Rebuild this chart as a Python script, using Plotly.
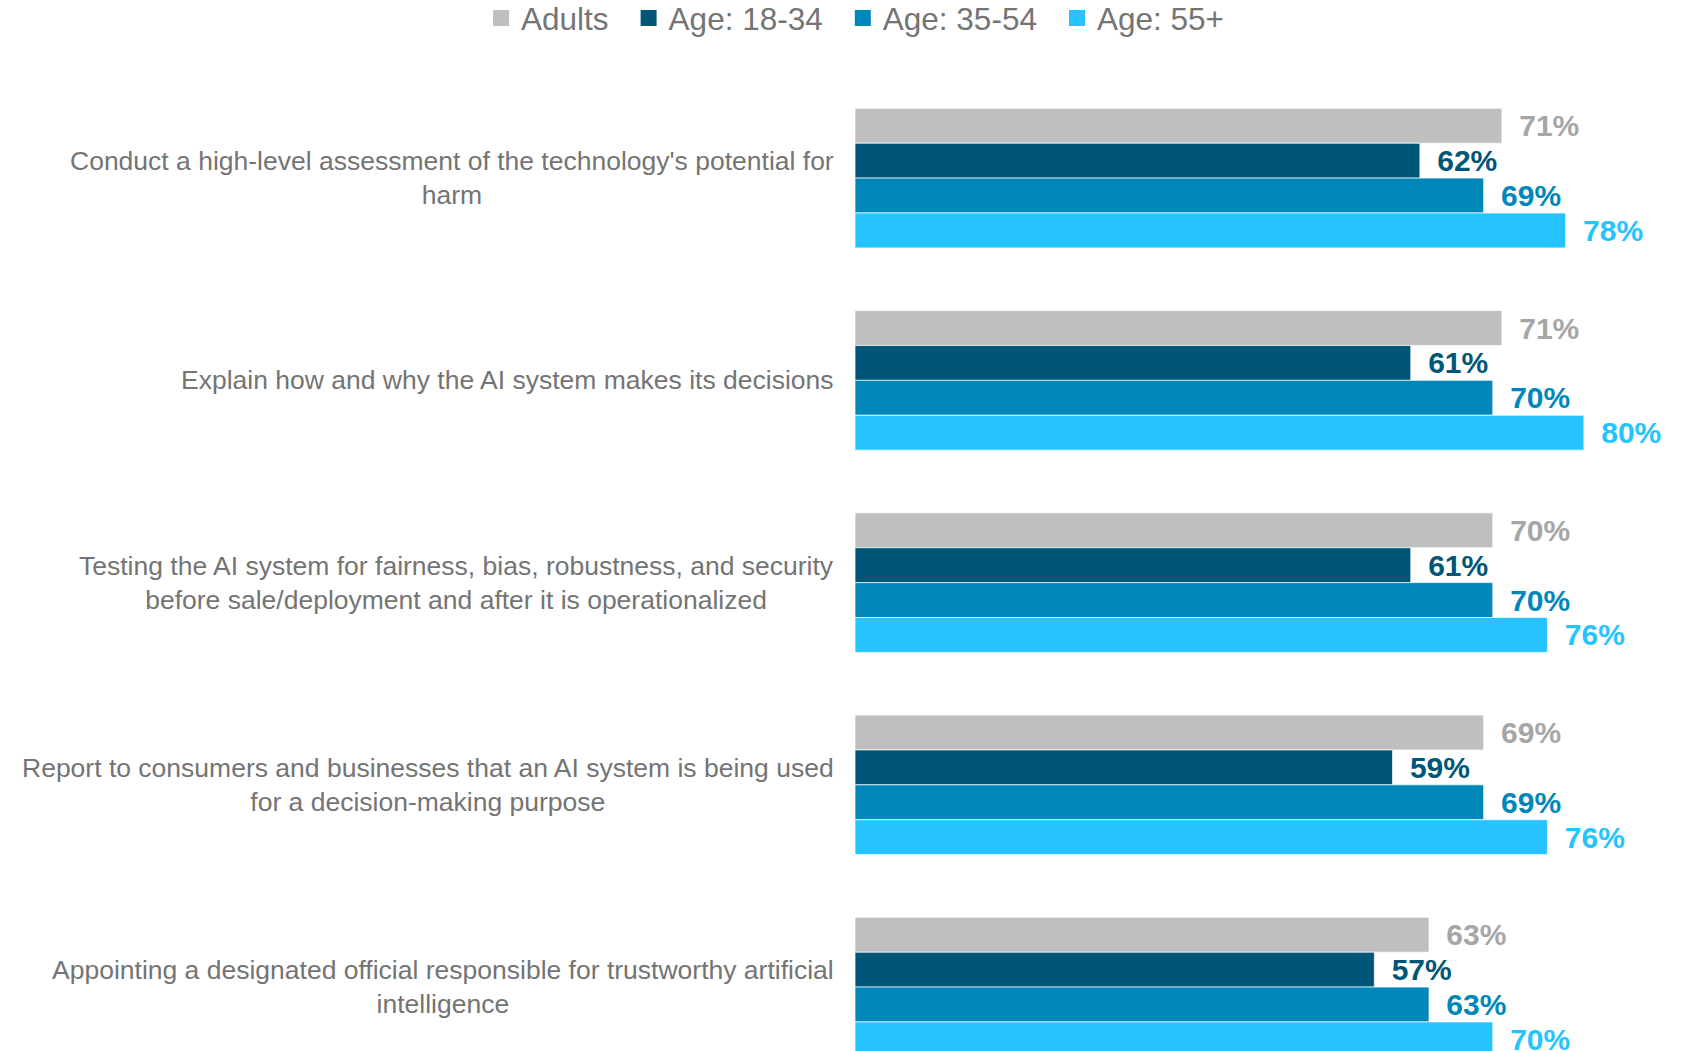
import plotly.graph_objects as go

categories = [
    "Conduct a high-level assessment of the technology's potential for<br>harm",
    "Explain how and why the AI system makes its decisions",
    "Testing the AI system for fairness, bias, robustness, and security<br>before sale/deployment and after it is operationalized",
    "Report to consumers and businesses that an AI system is being used<br>for a decision-making purpose",
    "Appointing a designated official responsible for trustworthy artificial<br>intelligence",
]
series_names = ["Adults", "Age: 18-34", "Age: 35-54", "Age: 55+"]
adults = [71, 71, 70, 69, 63]
age_18_34 = [62, 61, 61, 59, 57]
age_35_54 = [69, 70, 70, 69, 63]
age_55_plus = [78, 80, 76, 76, 70]
series_values = [adults, age_18_34, age_35_54, age_55_plus]

bar_colors = ["#BFBFBF", "#005677", "#0087BA", "#26C4FE"]
label_colors = ["#A6A6A6", "#005677", "#0087BA", "#26C4FE"]
FONT = "Liberation Sans, Arial, sans-serif"
TEXT_GRAY = "#747474"

fig = go.Figure()
for name, vals, bc, lc in zip(series_names, series_values, bar_colors, label_colors):
    fig.add_trace(go.Bar(
        y=categories, x=vals, orientation="h", name=name,
        marker=dict(color=bc, line=dict(color="rgba(255,255,255,0.7)", width=1)),
        text=[f"\u00a0\u2009{v}%" for v in vals],
        textposition="outside", constraintext="none", cliponaxis=False,
        textfont=dict(family=FONT, size=30, color=lc, weight="bold"),
        showlegend=False, hoverinfo="skip",
    ))
    # legend entry
    fig.add_trace(go.Scatter(
        x=[None], y=[None], mode="markers", name=name + "\u00a0\u2009",
        marker=dict(symbol="square", size=16, color=bc),
        showlegend=True, hoverinfo="skip",
    ))

for cat in categories:
    fig.add_annotation(
        x=0, xref="paper", y=cat, yref="y", xanchor="right", yanchor="middle",
        xshift=-19, text=cat, showarrow=False, align="center",
        font=dict(family=FONT, size=26.5, color=TEXT_GRAY),
    )

fig.update_layout(
    width=1691, height=1051,
    margin=dict(l=855, r=16, t=77, b=0),
    paper_bgcolor="white", plot_bgcolor="white",
    barmode="group", bargap=0.31, bargroupgap=0,
    xaxis=dict(range=[0, 90], visible=False, fixedrange=True),
    yaxis=dict(range=[4.316, -0.5], showticklabels=False, showgrid=False,
               zeroline=False, showline=False, ticks="", fixedrange=True),
    legend=dict(orientation="h", xref="container", yref="container",
                x=481 / 1691, xanchor="left", y=1 - 18 / 1051, yanchor="middle",
                font=dict(family=FONT, size=31.5, color=TEXT_GRAY),
                bgcolor="rgba(0,0,0,0)", borderwidth=0),
    showlegend=True,
)

fig.write_html("out.html", post_script="document.body.style.margin='0';document.body.style.overflow='hidden';",
               config={"displayModeBar": False})
